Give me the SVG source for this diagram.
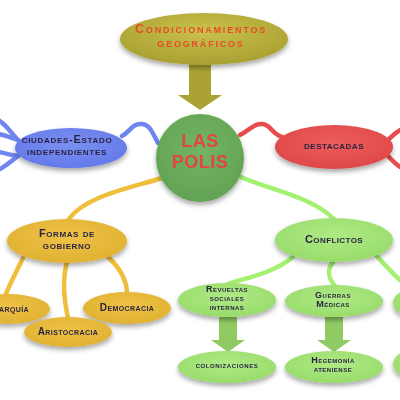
<svg xmlns="http://www.w3.org/2000/svg" width="400" height="400" viewBox="0 0 400 400">
<defs>
<filter id="sh" x="-20%" y="-20%" width="140%" height="160%">
<feGaussianBlur in="SourceAlpha" stdDeviation="2.5"/>
<feOffset dx="0" dy="3" result="b"/>
<feComponentTransfer><feFuncA type="linear" slope="0.35"/></feComponentTransfer>
<feMerge><feMergeNode/><feMergeNode in="SourceGraphic"/></feMerge>
</filter>
<radialGradient id="gOl" cx="50%" cy="35%" r="60%"><stop offset="0" stop-color="#c9c24a"/><stop offset="1" stop-color="#aba234"/></radialGradient>
<radialGradient id="gGr" cx="50%" cy="40%" r="60%"><stop offset="0" stop-color="#74b463"/><stop offset="1" stop-color="#62a353"/></radialGradient>
<radialGradient id="gBl" cx="50%" cy="40%" r="60%"><stop offset="0" stop-color="#7b91f2"/><stop offset="1" stop-color="#6479e8"/></radialGradient>
<radialGradient id="gRd" cx="50%" cy="40%" r="60%"><stop offset="0" stop-color="#ec5d5b"/><stop offset="1" stop-color="#df4848"/></radialGradient>
<radialGradient id="gYe" cx="50%" cy="40%" r="60%"><stop offset="0" stop-color="#eec247"/><stop offset="1" stop-color="#e0b232"/></radialGradient>
<radialGradient id="gLg" cx="50%" cy="40%" r="60%"><stop offset="0" stop-color="#b0ea86"/><stop offset="1" stop-color="#98dc6a"/></radialGradient>
</defs>
<style>
text{font-family:"Liberation Sans",Arial,sans-serif;font-weight:bold;font-variant:small-caps;text-anchor:middle;fill:#2b2444}
.c{fill:none;stroke-width:4.5;stroke-linecap:round}
</style>
<rect width="400" height="400" fill="#ffffff"/>
<g id="connectors">
<path class="c" stroke="#6f85ef" d="M158,143 C152,132 150,125 142,124 C132,123 130,132 122,136"/>
<path class="c" stroke="#6f85ef" d="M18,140 C10,132 6,124 -2,120"/>
<path class="c" stroke="#6f85ef" d="M18,140 C10,137 5,135 -2,134"/>
<path class="c" stroke="#6f85ef" d="M18,156 C10,155 5,153 -2,152"/>
<path class="c" stroke="#6f85ef" d="M18,156 C10,162 5,167 -2,170"/>
<path class="c" stroke="#e84c4c" d="M240,135 C250,130 254,123 263,124 C271,125 272,134 282,137"/>
<path class="c" stroke="#e84c4c" d="M388,140 C393,135 396,132 402,129"/>
<path class="c" stroke="#e84c4c" d="M388,156 C393,161 396,165 402,168"/>
<path class="c" stroke="#eebe3c" d="M162,178 C130,188 85,196 68,220"/>
<path class="c" stroke="#eebe3c" d="M23,258 C16,272 10,284 5,296"/>
<path class="c" stroke="#eebe3c" d="M67,262 C62,280 64,300 68,318"/>
<path class="c" stroke="#eebe3c" d="M108,257 C120,268 127,280 127,294"/>
<path class="c" stroke="#a4f070" d="M241,177 C270,190 310,196 334,219"/>
<path class="c" stroke="#a4f070" d="M293,257 C272,274 245,278 228,284"/>
<path class="c" stroke="#a4f070" d="M333,262 C325,272 330,280 335,286"/>
<path class="c" stroke="#a4f070" d="M377,256 C385,266 392,272 402,282"/>
<path fill="#aaa232" d="M189,62 H211 V95 H222 L200,110 L178,95 H189 Z"/>
<path fill="#8fca62" d="M219,317 H237 V340 H245 L228,352 L211,340 H219 Z"/>
<path fill="#8fca62" d="M325,317 H343 V340 H351 L334,352 L317,340 H325 Z"/>
</g>
<g id="n-cond" filter="url(#sh)">
<ellipse cx="204" cy="39" rx="84" ry="26" fill="url(#gOl)"/>
<text x="201" y="33" font-size="12.5" letter-spacing="1.8" style="fill:#ea4a2c">Condicionamientos</text>
<text x="201" y="47" font-size="12.5" letter-spacing="1.8" style="fill:#ea4a2c">geográficos</text>
</g>
<g id="n-polis" filter="url(#sh)">
<circle cx="200" cy="158" r="44" fill="url(#gGr)"/>
<text x="200" y="147" font-size="18" letter-spacing="0.5" style="fill:#e24444;font-variant:normal">LAS</text>
<text x="200" y="168" font-size="18" letter-spacing="0.5" style="fill:#e24444;font-variant:normal">POLIS</text>
</g>
<g id="n-ciudades" filter="url(#sh)">
<ellipse cx="71" cy="148" rx="56" ry="20" fill="url(#gBl)"/>
<text x="67" y="143" font-size="11" letter-spacing="0.7">ciudades-Estado</text>
<text x="67" y="155" font-size="11" letter-spacing="0.7">independientes</text>
</g>
<g id="n-destacadas" filter="url(#sh)">
<ellipse cx="334" cy="147" rx="59" ry="22" fill="url(#gRd)"/>
<text x="334" y="149" font-size="11" letter-spacing="0.5">destacadas</text>
</g>
<g id="n-formas" filter="url(#sh)">
<ellipse cx="67" cy="241" rx="60" ry="22" fill="url(#gYe)"/>
<text x="67" y="237" font-size="11" letter-spacing="0.6">Formas de</text>
<text x="67" y="249" font-size="11" letter-spacing="0.6">gobierno</text>
</g>
<g id="n-monarquia" filter="url(#sh)">
<ellipse cx="8" cy="309" rx="42" ry="15" fill="url(#gYe)"/>
<text x="4" y="312" font-size="10" letter-spacing="0.4">Monarquía</text>
</g>
<g id="n-democracia" filter="url(#sh)">
<ellipse cx="127" cy="308" rx="44" ry="16" fill="url(#gYe)"/>
<text x="127" y="311" font-size="10" letter-spacing="0.4">Democracia</text>
</g>
<g id="n-aristocracia" filter="url(#sh)">
<ellipse cx="68" cy="332" rx="44" ry="15" fill="url(#gYe)"/>
<text x="68" y="335" font-size="10" letter-spacing="0.4">Aristocracia</text>
</g>
<g id="n-conflictos" filter="url(#sh)">
<ellipse cx="334" cy="240" rx="59" ry="22" fill="url(#gLg)"/>
<text x="334" y="243" font-size="11" letter-spacing="0.4">Conflictos</text>
</g>
<g id="n-revueltas" filter="url(#sh)">
<ellipse cx="227" cy="300" rx="49" ry="17" fill="url(#gLg)"/>
<text x="227" y="292" font-size="9" letter-spacing="0.5">Revueltas</text>
<text x="227" y="301" font-size="9" letter-spacing="0.5">sociales</text>
<text x="227" y="310" font-size="9" letter-spacing="0.5">internas</text>
</g>
<g id="n-guerras" filter="url(#sh)">
<ellipse cx="334" cy="301" rx="49" ry="16" fill="url(#gLg)"/>
<text x="333" y="298" font-size="9" letter-spacing="0.5">Guerras</text>
<text x="333" y="307" font-size="9" letter-spacing="0.5">Médicas</text>
</g>
<g id="n-right1" filter="url(#sh)">
<ellipse cx="425" cy="303" rx="32" ry="17" fill="url(#gLg)"/>
</g>
<g id="n-colonizaciones" filter="url(#sh)">
<ellipse cx="227" cy="367" rx="49" ry="16" fill="url(#gLg)"/>
<text x="227" y="368" font-size="9" letter-spacing="0.6">colonizaciones</text>
</g>
<g id="n-hegemonia" filter="url(#sh)">
<ellipse cx="334" cy="367" rx="49" ry="16" fill="url(#gLg)"/>
<text x="333" y="363" font-size="9" letter-spacing="0.5">Hegemonía</text>
<text x="333" y="372" font-size="9" letter-spacing="0.5">ateniense</text>
</g>
<g id="n-right2" filter="url(#sh)">
<ellipse cx="425" cy="364" rx="32" ry="17" fill="url(#gLg)"/>
</g>
</svg>
